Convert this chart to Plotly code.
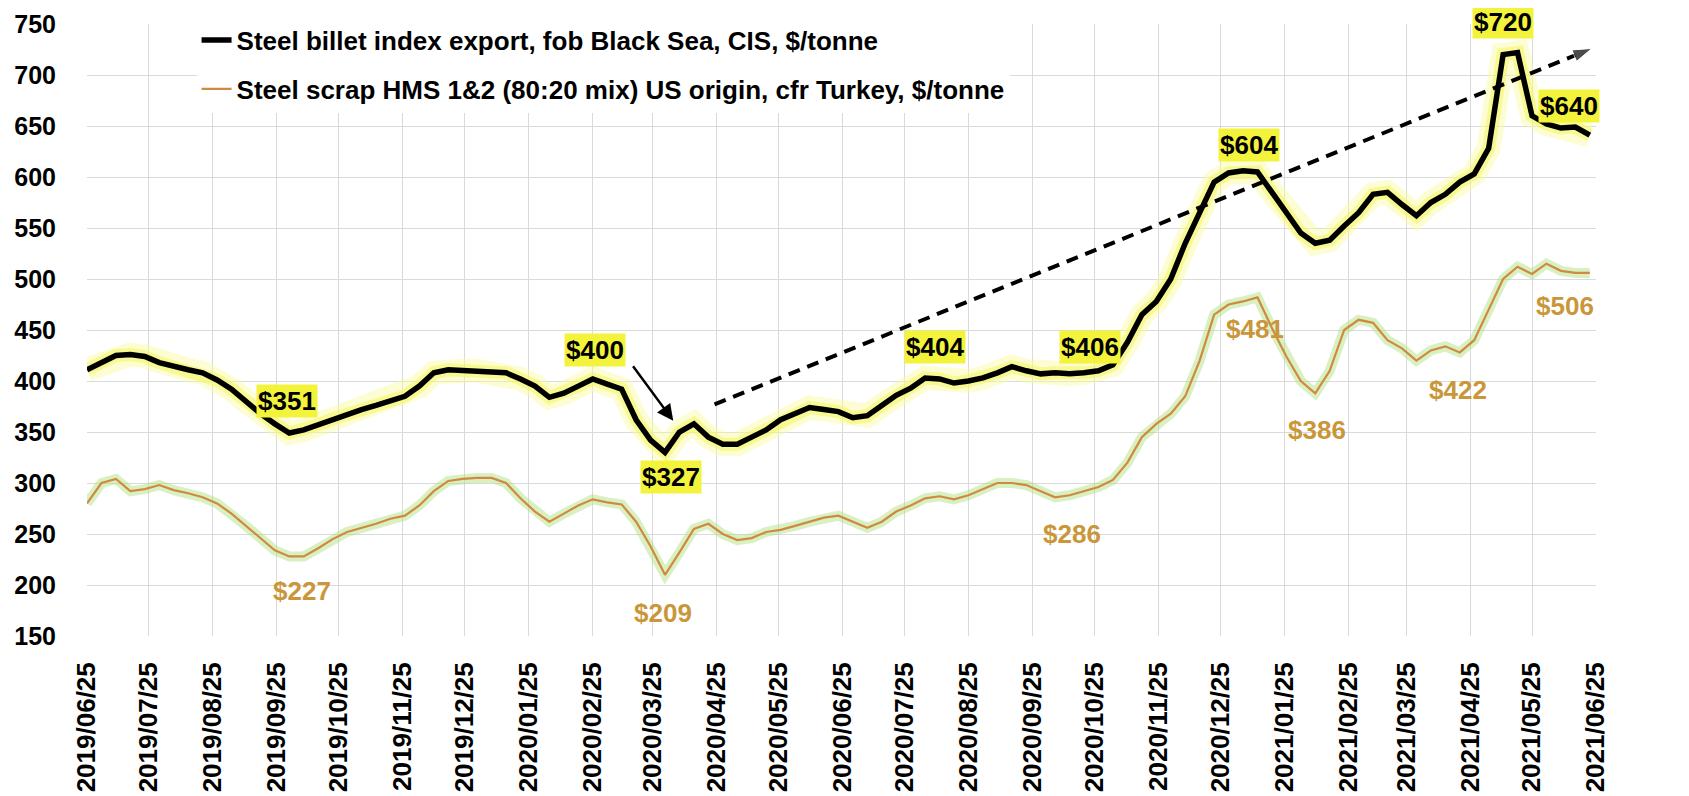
import pandas as pd
import plotly.graph_objects as go

# ---------------- data (weekly) ----------------
start_date = "2019-06-25"

billet = [411, 418, 425, 426, 424, 418, 414, 411, 408, 401,
          392, 380, 368, 358, 349, 352, 357, 363, 368, 372,
          376, 380, 385, 395, 408, 411, 410, 410, 409, 408,
          402, 395, 384, 388, 395, 402, 397, 392, 362, 342,
          330, 350, 358, 345, 338, 338, 345, 352, 362, 368,
          374, 372, 370, 364, 366, 376, 386, 393, 403, 402,
          398, 400, 403, 408, 414, 410, 407, 408, 407, 408,
          410, 416, 438, 465, 478, 500, 535, 565, 595, 604,
          606, 605, 585, 567, 545, 535, 538, 552, 565, 583,
          585, 573, 562, 575, 583, 595, 603, 628, 720, 722,
          660, 652, 648, 649, 641]

scrap = [280, 300, 304, 292, 294, 298, 293, 290, 286, 280,
         270, 258, 246, 234, 228, 228, 236, 245, 252, 256,
         260, 265, 268, 278, 292, 302, 304, 305, 305, 300,
         285, 272, 262, 270, 278, 284, 281, 279, 262, 238,
         210, 232, 255, 260, 250, 244, 246, 252, 254, 258,
         262, 266, 268, 262, 256, 262, 272, 278, 285, 287,
         284, 288, 294, 300, 300, 298, 292, 286, 288, 292,
         296, 303, 320, 345, 358, 368, 385, 420, 465, 475,
         478, 482, 452, 424, 400, 388, 410, 450, 460, 457,
         440, 432, 420, 430, 434, 428, 440, 470, 500, 512,
         505, 515, 508, 506, 506]

tick_dates = ["2019-06-25", "2019-07-25", "2019-08-25", "2019-09-25", "2019-10-25",
              "2019-11-25", "2019-12-25", "2020-01-25", "2020-02-25", "2020-03-25",
              "2020-04-25", "2020-05-25", "2020-06-25", "2020-07-25", "2020-08-25",
              "2020-09-25", "2020-10-25", "2020-11-25", "2020-12-25", "2021-01-25",
              "2021-02-25", "2021-03-25", "2021-04-25", "2021-05-25", "2021-06-25"]
tick_labels = [d.replace("-", "/") for d in tick_dates]

billet_labels = ["$351", "$400", "$327", "$404", "$406", "$604", "$720", "$640"]
billet_label_x = ["2019-09-30", "2020-02-26", "2020-04-03", "2020-08-09",
                  "2020-10-23", "2021-01-08", "2021-05-11", "2021-06-12"]
billet_label_y = [380, 430, 306, 433, 433, 631, 744, 670]
billet_label_shift = [0, 0, 0, 0, 0, 0, 8, 0]

scrap_labels = ["$227", "$209", "$286", "$481", "$386", "$422", "$506"]
scrap_label_x = ["2019-10-07", "2020-03-30", "2020-10-14", "2021-01-11",
                 "2021-02-10", "2021-04-19", "2021-06-10"]
scrap_label_y = [194, 173, 250, 451, 352, 391, 474]

trend_x = ["2020-04-24", "2021-06-23"]
trend_y = [377, 726]
drop_arrow_from = ("2020-03-15", 416)
drop_arrow_to = ("2020-04-04", 361)

name_billet = "Steel billet index export, fob Black Sea, CIS, $/tonne"
name_scrap = "Steel scrap HMS 1&2 (80:20 mix) US origin, cfr Turkey, $/tonne"

# ---------------- figure ----------------
FONT = "Liberation Sans, Arial, sans-serif"
dates = pd.date_range(start_date, periods=len(billet), freq="7D")

fig = go.Figure()

# glows
fig.add_trace(go.Scatter(x=dates, y=scrap, mode="lines", hoverinfo="skip", showlegend=False,
                         line=dict(color="rgba(170,225,120,0.45)", width=10)))
fig.add_trace(go.Scatter(x=dates, y=billet, mode="lines", hoverinfo="skip", showlegend=False,
                         line=dict(color="rgba(250,250,160,0.45)", width=24)))
fig.add_trace(go.Scatter(x=dates, y=billet, mode="lines", hoverinfo="skip", showlegend=False,
                         line=dict(color="rgba(245,245,80,0.5)", width=13)))

# main series
fig.add_trace(go.Scatter(x=dates, y=billet, mode="lines", name=name_billet, legendgroup="a",
                         line=dict(color="black", width=5.5)))
fig.add_trace(go.Scatter(x=dates, y=scrap, mode="lines", name=name_scrap, legendgroup="b",
                         line=dict(color="#CF8A40", width=2.2)))

# dashed trend arrow
fig.add_trace(go.Scatter(x=trend_x, y=trend_y, mode="lines+markers", showlegend=False, hoverinfo="skip",
                         line=dict(color="black", width=4, dash="12px,8px"),
                         marker=dict(symbol=["circle", "arrow"], size=[0, 20], angleref="previous",
                                     color="black")))

annotations = []
for t, x, y, s in zip(billet_labels, billet_label_x, billet_label_y, billet_label_shift):
    annotations.append(dict(x=x, y=y, xref="x", yref="y", text=t, showarrow=False, yshift=s,
                            font=dict(family=FONT, size=26, color="black", weight="bold"),
                            bgcolor="#F3F33C", borderpad=1))
for t, x, y in zip(scrap_labels, scrap_label_x, scrap_label_y):
    annotations.append(dict(x=x, y=y, xref="x", yref="y", text=t, showarrow=False,
                            font=dict(family=FONT, size=26, color="#C9973A", weight="bold")))
annotations.append(dict(x=drop_arrow_to[0], y=drop_arrow_to[1], ax=drop_arrow_from[0],
                        ay=drop_arrow_from[1], xref="x", yref="y", axref="x", ayref="y",
                        text="", showarrow=True, arrowhead=2, arrowsize=1.3, arrowwidth=2.5,
                        arrowcolor="black"))

# the page body adds an 8px offset, so the figure is sized/margined to compensate
fig.update_layout(
    width=1681, height=788,
    margin=dict(l=79, r=93, t=16, b=160, autoexpand=False),
    paper_bgcolor="white", plot_bgcolor="white",
    font=dict(family=FONT, color="black"),
    showlegend=True,
    legend=dict(x=0.0726, y=1.012, xanchor="left", yanchor="top", bgcolor="white",
                font=dict(family=FONT, size=26, color="black", weight="bold"),
                traceorder="grouped", tracegroupgap=12, itemwidth=30),
    annotations=annotations,
)
fig.update_xaxes(type="date", range=["2019-06-25", "2021-06-25"], automargin=False,
                 tickvals=tick_dates, ticktext=tick_labels, tickangle=-90,
                 tickfont=dict(family=FONT, size=26, color="black", weight="bold"),
                 showgrid=True, gridcolor="#DADADA", gridwidth=1, zeroline=False,
                 showline=False, ticks="", ticklabelstandoff=20)
fig.update_yaxes(range=[150, 750], dtick=50, tick0=150, automargin=False,
                 tickfont=dict(family=FONT, size=25, color="black", weight="bold"),
                 showgrid=True, gridcolor="#DADADA", gridwidth=1, zeroline=False,
                 showline=False, ticks="", ticklabelstandoff=30)

fig.write_html("out.html")
